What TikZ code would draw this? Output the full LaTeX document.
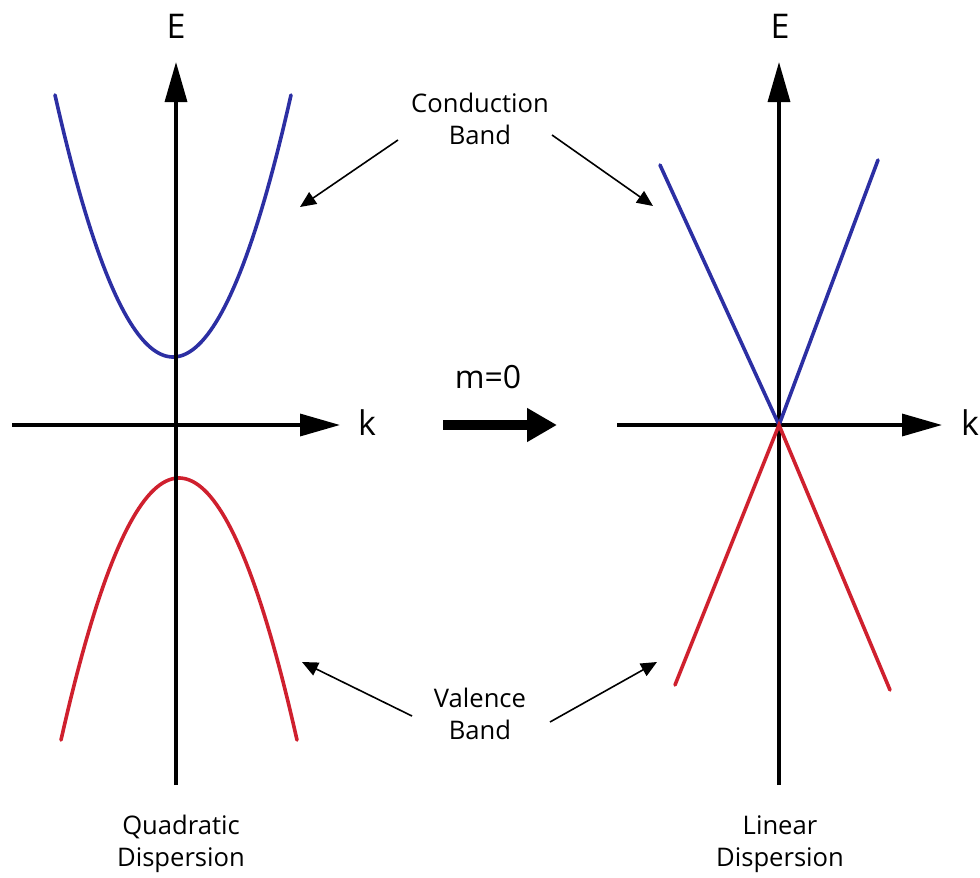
\documentclass[tikz,border=0pt]{standalone}
\usepackage{fontspec}
\setmainfont{Open Sans}
\usetikzlibrary{arrows.meta}
\definecolor{cband}{HTML}{2C2FA3}
\definecolor{vband}{HTML}{CF202E}
\tikzset{
  axis/.style={line width=1.7pt,-{Triangle[length=20pt,width=11pt]}},
  band/.style={line width=1.8pt,line cap=round},
  note/.style={line width=0.8pt,-{Triangle[length=8pt,width=7pt]}},
  lbl/.style={font=\fontsize{12.8}{16}\selectfont,align=center,inner sep=0pt},
  axlbl/.style={font=\fontsize{17}{20}\selectfont,inner sep=0pt}
}
\begin{document}
\begin{tikzpicture}[x=0.5pt,y=-0.5pt]
\useasboundingbox (0,0) rectangle (980,878);
% left diagram
\coordinate (LyB) at (176,785);
\coordinate (LyT) at (176,62);
\coordinate (LxL) at (12,425);
\coordinate (LxR) at (340,425);
\draw[band,cband,domain=-118:118,samples=80] plot ({173+\x},{357-262*(\x/118)^2});
\draw[band,vband,domain=-118:118,samples=80] plot ({179+\x},{478+262*(\x/118)^2});
\draw[axis] (LyB) -- (LyT);
\draw[axis] (LxL) -- (LxR);
\node[axlbl] (LE) at (176,26) {E};
\node[axlbl] (Lk) at (367,423) {k};
% right diagram
\coordinate (RyB) at (779,785);
\coordinate (RyT) at (779,62);
\coordinate (RxL) at (617,425);
\coordinate (RxR) at (942,425);
\coordinate (O) at (779,425);
\coordinate (C1) at (660,165);
\coordinate (C2) at (878,160);
\coordinate (V1) at (675,685);
\coordinate (V2) at (890,690);
\draw[axis] (RyB) -- (RyT);
\draw[axis] (RxL) -- (RxR);
\draw[band,cband] (C1) -- (O) -- (C2);
\draw[band,vband] (V1) -- (O) -- (V2);
\node[axlbl] (RE) at (780,26) {E};
\node[axlbl] (Rk) at (970,423) {k};
% middle
\node[axlbl,font=\fontsize{16}{19}\selectfont] (m0) at (488,377) {m=0};
\coordinate (MA) at (443,425);
\coordinate (MB) at (557,425);
\draw[line width=5pt,-{Triangle[length=15pt,width=16pt]}] (MA) -- (MB);
% annotations
\node[lbl] (cb) at (480,119) {Conduction\\Band};
\node[lbl] (vb) at (480,714) {Valence\\Band};
\coordinate (cbL) at (398,140);
\coordinate (cbLt) at (300,207);
\coordinate (cbR) at (552,135);
\coordinate (cbRt) at (653,206);
\coordinate (vbL) at (412,716);
\coordinate (vbLt) at (302,662);
\coordinate (vbR) at (550,722);
\coordinate (vbRt) at (657,662);
\draw[note] (cbL) -- (cbLt);
\draw[note] (cbR) -- (cbRt);
\draw[note] (vbL) -- (vbLt);
\draw[note] (vbR) -- (vbRt);
\node[lbl] (qd) at (181,844) {Quadratic\\Dispersion};
\node[lbl] (ld) at (780,844) {Linear\\Dispersion};
\end{tikzpicture}
\end{document}
